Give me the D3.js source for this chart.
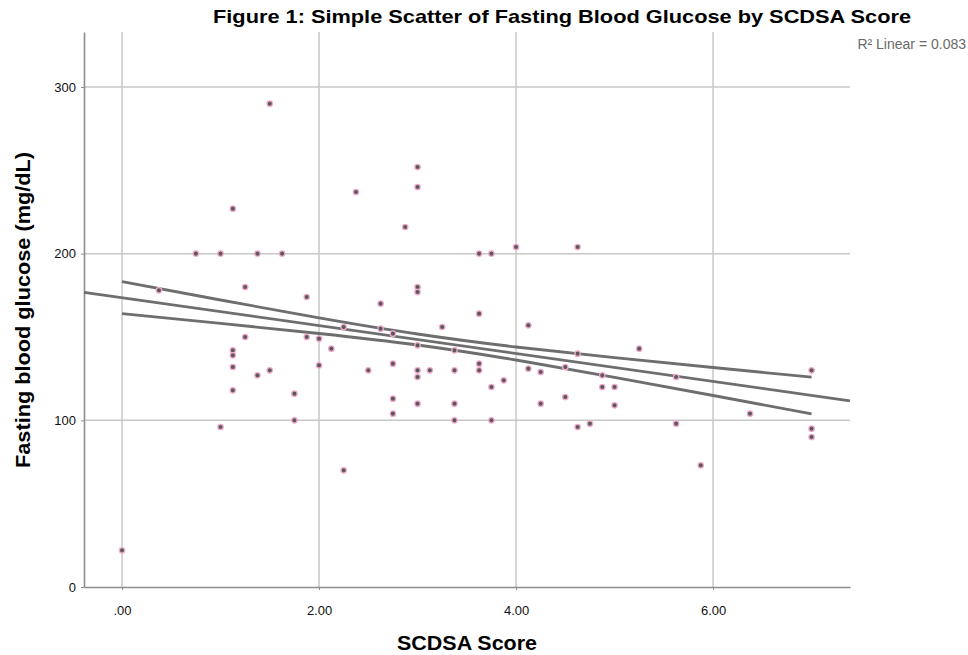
<!DOCTYPE html>
<html>
<head>
<meta charset="utf-8">
<script src="https://cdn.jsdelivr.net/npm/d3@7"></script>
<style>
  body { margin: 0; background: #fff; }
  svg { font-family: "Liberation Sans", Arial, sans-serif; }
</style>
</head>
<body>
<div id="chart"></div>
<script>
// SCDSA score vs fasting blood glucose
const scdsa = [
  0, 0.375, 0.75, 1, 1, 1.125, 1.125, 1.125, 1.125, 1.125,
  1.25, 1.25, 1.375, 1.375, 1.5, 1.5, 1.625, 1.75, 1.75, 1.875,
  1.875, 2, 2, 2.125, 2.25, 2.25, 2.375, 2.5, 2.625, 2.625,
  2.75, 2.75, 2.75, 2.75, 2.875, 3, 3, 3, 3, 3,
  3, 3, 3, 3.125, 3.25, 3.375, 3.375, 3.375, 3.375, 3.625,
  3.625, 3.625, 3.625, 3.75, 3.75, 3.75, 3.875, 4, 4.125, 4.125,
  4.25, 4.25, 4.5, 4.5, 4.625, 4.625, 4.625, 4.75, 4.875, 4.875,
  5, 5, 5.25, 5.625, 5.625, 5.875, 6.375, 7, 7, 7
]
const glucose = [
  22, 178, 200, 200, 96, 227, 142, 139, 132, 118,
  180, 150, 200, 127, 290, 130, 200, 116, 100, 174,
  150, 149, 133, 143, 156, 70, 237, 130, 170, 155,
  152, 134, 113, 104, 216, 252, 240, 180, 177, 145,
  130, 126, 110, 130, 156, 142, 130, 110, 100, 200,
  164, 134, 130, 200, 120, 100, 124, 204, 157, 131,
  129, 110, 132, 114, 204, 140, 96, 98, 127, 120,
  120, 109, 143, 126, 98, 73, 104, 130, 95, 90
]

// fit line (across the whole axis) and its 95% band, as drawn in the picture
const fitX = [-0.386, 7.39]
const fitY = [176.8, 111.7]
const bandX = [0, 1, 2, 3, 4, 5, 6, 7]
const bandUpper = [183.2, 172.2, 161.5, 151.8, 144.0, 137.6, 131.7, 125.9]
const bandLower = [164.0, 158.2, 152.1, 145.2, 136.2, 125.8, 114.9, 103.9]

const xTicks = [0, 2, 4, 6]
const xTickLabels = ['.00', '2.00', '4.00', '6.00']
const yTicks = [0, 100, 200, 300]
const yTickLabels = ['0', '100', '200', '300']

const width = 968,
      height = 655,
      plotLeft = 84, plotRight = 850, plotTop = 32, plotBottom = 587

let svg = d3.select('#chart')
  .append('svg')
  .attr('width', width)
  .attr('height', height)

let xScale = d3.scaleLinear().domain([-0.386, 7.39]).range([plotLeft, plotRight])
let yScale = d3.scaleLinear().domain([0, 333]).range([plotBottom, plotTop])

// grid
svg.append('g')
  .selectAll('line')
  .data(xTicks)
  .enter()
  .append('line')
  .attr('x1', d => xScale(d)).attr('x2', d => xScale(d))
  .attr('y1', plotTop).attr('y2', plotBottom)
  .attr('stroke', '#c8c8c8').attr('stroke-width', 1.5)

svg.append('g')
  .selectAll('line')
  .data(yTicks.slice(1))
  .enter()
  .append('line')
  .attr('x1', plotLeft).attr('x2', plotRight)
  .attr('y1', d => yScale(d)).attr('y2', d => yScale(d))
  .attr('stroke', '#c8c8c8').attr('stroke-width', 1.5)

// axes
svg.append('g')
  .attr('transform', `translate(0, ${plotBottom})`)
  .call(d3.axisBottom(xScale).tickValues(xTicks)
    .tickFormat((d, i) => xTickLabels[i]).tickSize(3).tickSizeOuter(0).tickPadding(16))

svg.append('g')
  .attr('transform', `translate(${plotLeft}, 0)`)
  .call(d3.axisLeft(yScale).tickValues(yTicks)
    .tickFormat((d, i) => yTickLabels[i]).tickSize(3).tickSizeOuter(0).tickPadding(5))

svg.selectAll('.domain').attr('stroke', '#8c8c8c').attr('stroke-width', 1.6)
svg.selectAll('.tick line').attr('stroke', '#8c8c8c')
svg.selectAll('.tick text').attr('font-size', 13).attr('fill', '#111')
  .attr('font-family', '"Liberation Sans", Arial, sans-serif')

// fit line and band
let lineGen = d3.line().x(d => xScale(d[0])).y(d => yScale(d[1]))
let curveGen = d3.line().x(d => xScale(d[0])).y(d => yScale(d[1])).curve(d3.curveNatural)

let lines = [
  { d: lineGen(fitX.map((x, i) => [x, fitY[i]])) },
  { d: curveGen(bandX.map((x, i) => [x, bandUpper[i]])) },
  { d: curveGen(bandX.map((x, i) => [x, bandLower[i]])) }
]

svg.append('g')
  .selectAll('path')
  .data(lines)
  .enter()
  .append('path')
  .attr('d', d => d.d)
  .attr('fill', 'none')
  .attr('stroke', '#6e6e6e')
  .attr('stroke-width', 2.8)

// points
svg.append('g')
  .selectAll('circle')
  .data(scdsa)
  .enter()
  .append('circle')
  .attr('cx', d => xScale(d))
  .attr('cy', (d, i) => yScale(glucose[i]))
  .attr('r', 2.7)
  .attr('fill', '#5a5a5a')
  .attr('stroke', '#f3a9cf')
  .attr('stroke-width', 1.3)

// texts
svg.append('text')
  .attr('x', 562).attr('y', 23)
  .attr('text-anchor', 'middle')
  .attr('font-size', 19).attr('font-weight', 'bold')
  .attr('textLength', 698).attr('lengthAdjust', 'spacingAndGlyphs')
  .text('Figure 1: Simple Scatter of Fasting Blood Glucose by SCDSA Score')

svg.append('text')
  .attr('x', 966).attr('y', 49)
  .attr('text-anchor', 'end')
  .attr('font-size', 14).attr('fill', '#6a6a6a')
  .text('R² Linear = 0.083')

svg.append('text')
  .attr('x', 467).attr('y', 650)
  .attr('text-anchor', 'middle')
  .attr('font-size', 20).attr('font-weight', 'bold')
  .attr('textLength', 140).attr('lengthAdjust', 'spacingAndGlyphs')
  .text('SCDSA Score')

svg.append('text')
  .attr('transform', 'translate(30, 310) rotate(-90)')
  .attr('text-anchor', 'middle')
  .attr('font-size', 20).attr('font-weight', 'bold')
  .attr('textLength', 316).attr('lengthAdjust', 'spacingAndGlyphs')
  .text('Fasting blood glucose (mg/dL)')
</script>
</body>
</html>
